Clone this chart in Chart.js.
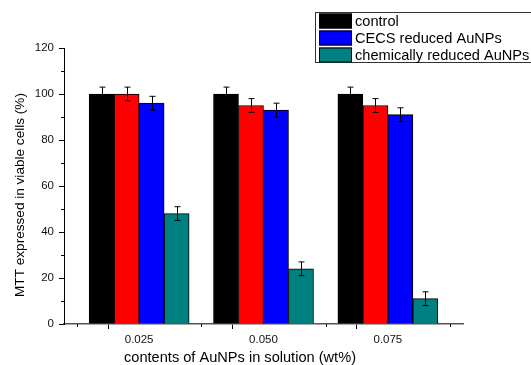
<!DOCTYPE html>
<html>
<head>
<meta charset="utf-8">
<script src="https://cdn.jsdelivr.net/npm/chart.js@4"></script>
<style>
  body { margin: 0; background: #fff; }
  #wrap { width: 531px; height: 365px; position: relative; }
</style>
</head>
<body>
<div id="wrap"><canvas id="myChart"></canvas></div>
<script>
// contents of AuNPs (wt%)
var contents = [0.025, 0.05, 0.075];
var xTicks = [0.0125, 0.025, 0.0375, 0.05, 0.0625, 0.075, 0.0875];

var control = [100, 100, 100];
var controlErr = [3, 3, 3];
var redSeries = [100, 95, 95];
var redErr = [3, 3, 3];
var cecs = [96, 93, 91];
var cecsErr = [3, 3, 3];
var chemical = [48, 24, 11];
var chemicalErr = [3, 3, 3];

var xTitle = "contents of AuNPs in solution (wt%)";
var yTitle = "MTT expressed in viable cells (%)";
var FONT = "'Liberation Sans', Arial, sans-serif";

function pts(vals) {
  return vals.map(function (v, i) { return { x: contents[i], y: v }; });
}
function isMajor(v) {
  return Math.abs(v / 0.025 - Math.round(v / 0.025)) < 1e-6;
}

// error bars drawn over each bar
var errorBars = {
  id: "errorBars",
  afterDatasetsDraw: function (chart) {
    var c = chart.ctx, ys = chart.scales.y;
    c.save();
    c.strokeStyle = "#000";
    c.lineWidth = 1;
    chart.data.datasets.forEach(function (ds, di) {
      chart.getDatasetMeta(di).data.forEach(function (bar, i) {
        var v = ds.data[i].y, e = ds.errors[i];
        var x = Math.round(bar.x) + 0.5;
        var t = ys.getPixelForValue(v + e), b = ys.getPixelForValue(v - e);
        c.beginPath();
        c.moveTo(x, t); c.lineTo(x, b);
        c.moveTo(x - 3, t); c.lineTo(x + 3, t);
        c.moveTo(x - 3, b); c.lineTo(x + 3, b);
        c.stroke();
      });
    });
    c.restore();
  }
};

// short minor ticks, axis titles and the boxed legend
var extras = {
  id: "extras",
  afterDraw: function (chart) {
    var c = chart.ctx, xs = chart.scales.x, ys = chart.scales.y;
    var a = chart.chartArea;
    c.save();
    c.strokeStyle = "#000";
    c.lineWidth = 1;
    c.beginPath();
    for (var v = 10; v < 120; v += 20) {
      var py = Math.round(ys.getPixelForValue(v)) + 0.5;
      c.moveTo(a.left - 3, py); c.lineTo(a.left, py);
    }
    xTicks.forEach(function (t) {
      if (isMajor(t)) return;
      var px = Math.round(xs.getPixelForValue(t)) + 0.5;
      c.moveTo(px, a.bottom); c.lineTo(px, a.bottom + 3);
    });
    c.stroke();

    c.fillStyle = "#000";
    c.textAlign = "center";
    c.textBaseline = "middle";
    c.font = "14.6px " + FONT;
    c.fillText(xTitle, 240, 358);
    c.save();
    c.translate(20, 195);
    c.rotate(-Math.PI / 2);
    c.font = "13.6px " + FONT;
    c.fillText(yTitle, 0, 0);
    c.restore();

    // legend
    c.strokeStyle = "#333";
    c.strokeRect(315.5, 12.5, 240, 50);
    var items = chart.data.datasets.filter(function (d) { return d.inLegend; });
    c.textAlign = "left";
    c.font = "14.6px " + FONT;
    items.forEach(function (d, i) {
      var y = 13.5 + i * 17;
      c.fillStyle = d.backgroundColor;
      c.fillRect(319, y, 33, 15);
      c.strokeStyle = "#000";
      c.strokeRect(319.5, y + 0.5, 32, 14);
      c.fillStyle = "#000";
      c.fillText(d.label, 355, y + 8);
    });
    c.restore();
  }
};

var ctx = document.getElementById("myChart").getContext("2d");
var myChart = new Chart(ctx, {
  type: "bar",
  data: {
    datasets: [
      { label: "control", data: pts(control), errors: controlErr, backgroundColor: "#000000", inLegend: true },
      { label: "", data: pts(redSeries), errors: redErr, backgroundColor: "#ff0000", inLegend: false },
      { label: "CECS reduced AuNPs", data: pts(cecs), errors: cecsErr, backgroundColor: "#0000ff", inLegend: true },
      { label: "chemically reduced AuNPs", data: pts(chemical), errors: chemicalErr, backgroundColor: "#008080", inLegend: true },
    ],
  },
  options: {
    responsive: true,
    maintainAspectRatio: false,
    animation: false,
    layout: { padding: { top: 48, right: 68, left: 0, bottom: 0 } },
    datasets: {
      bar: { barThickness: 25, borderColor: "#000", borderWidth: 1, borderSkipped: "bottom" },
    },
    plugins: { legend: { display: false }, tooltip: { enabled: false } },
    scales: {
      x: {
        type: "linear",
        min: 0.0099,
        max: 0.0901,
        offset: false,
        afterBuildTicks: function (s) {
          s.ticks = xTicks.map(function (v) { return { value: v }; });
        },
        afterFit: function (s) { s.height = 41; },
        grid: {
          drawOnChartArea: false,
          tickLength: 5,
          tickColor: function (c) { return c.tick && isMajor(c.tick.value) ? "#000" : "rgba(0,0,0,0)"; },
        },
        border: { color: "#555", width: 1.5 },
        ticks: {
          autoSkip: false,
          maxRotation: 0,
          padding: 4,
          color: "#111",
          font: { family: FONT, size: 11.5 },
          callback: function (v) { return isMajor(v) ? v.toFixed(3) : ""; },
        },
      },
      y: {
        min: 0,
        max: 120,
        afterFit: function (s) { s.width = 64; },
        grid: {
          drawOnChartArea: false,
          tickLength: 5,
          tickColor: function (c) { return c.tick && c.tick.value % 20 === 0 ? "#000" : "rgba(0,0,0,0)"; },
        },
        border: { color: "#000", width: 1 },
        ticks: {
          stepSize: 10,
          autoSkip: false,
          padding: 5,
          color: "#111",
          font: { family: FONT, size: 11.5 },
          callback: function (v) { return v % 20 === 0 ? v : ""; },
        },
      },
    },
  },
  plugins: [errorBars, extras],
});
</script>
</body>
</html>
